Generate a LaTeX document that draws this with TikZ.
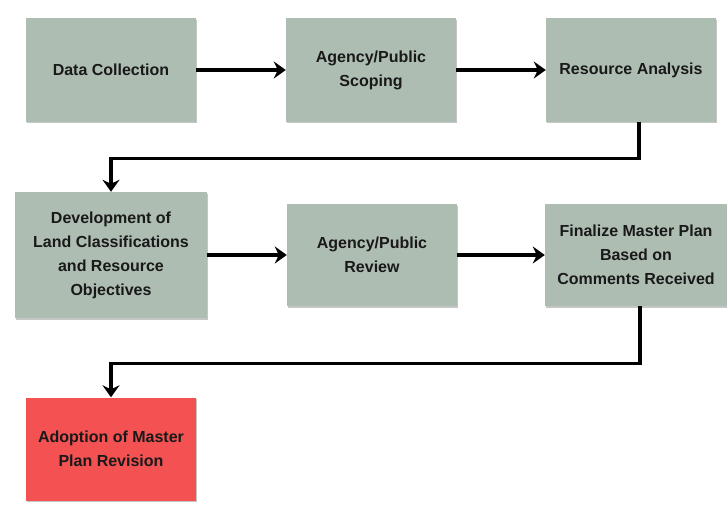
\documentclass[tikz,border=0pt]{standalone}
\usepackage{fontspec}
\setmainfont{Liberation Sans}
\usepackage{xcolor}
\usepackage{tikz}
\usetikzlibrary{positioning, arrows.meta, shadows}

\definecolor{boxgray}{RGB}{174,189,178}
\definecolor{boxred}{RGB}{244,82,82}

\begin{document}
\begin{tikzpicture}[x=1pt,y=-1pt,node distance=260pt,
                    main node/.style={rectangle,fill=boxgray,inner sep=0pt,
                      minimum width=170pt,minimum height=103pt,align=center,
                      text=black!90,font=\bfseries\fontsize{16}{24}\selectfont,
                      drop shadow={shadow xshift=1.2pt,shadow yshift=-1.5pt,fill=black!45,opacity=.5}},
                    flow/.style={line width=3.2pt,-{Stealth[length=12pt,width=17pt,inset=4pt]}}]

  \useasboundingbox (0,0) rectangle (727,508);

  \node[main node] at (111,70) (1) {Data Collection};
  \node[main node] (2) [right of=1] {Agency/Public\\Scoping};
  \node[main node] (3) [right of=2] {Resource Analysis};

  \node[main node,minimum width=192pt,minimum height=126pt] at (111,255) (4)
    {Development of\\Land Classifications\\and Resource\\Objectives};
  \node[main node,minimum height=102pt] (5) [right of=4,node distance=261pt] {Agency/Public\\Review};
  \node[main node,minimum width=182pt,minimum height=102pt] at (636,255) (6)
    {Finalize Master Plan\\Based on\\Comments Received};

  \node[main node,fill=boxred] at (111,449) (7) {Adoption of Master\\Plan Revision};

  \draw[flow] (1) -- (2);
  \draw[flow] (2) -- (3);
  \draw[flow] ([xshift=8pt]3.south) -- ++(0,37) -| (4.north);
  \draw[flow] (4) -- (5);
  \draw[flow] (5) -- (6);
  \draw[flow] ([xshift=4pt]6.south) -- ++(0,57) -| (7.north);

\end{tikzpicture}
\end{document}
